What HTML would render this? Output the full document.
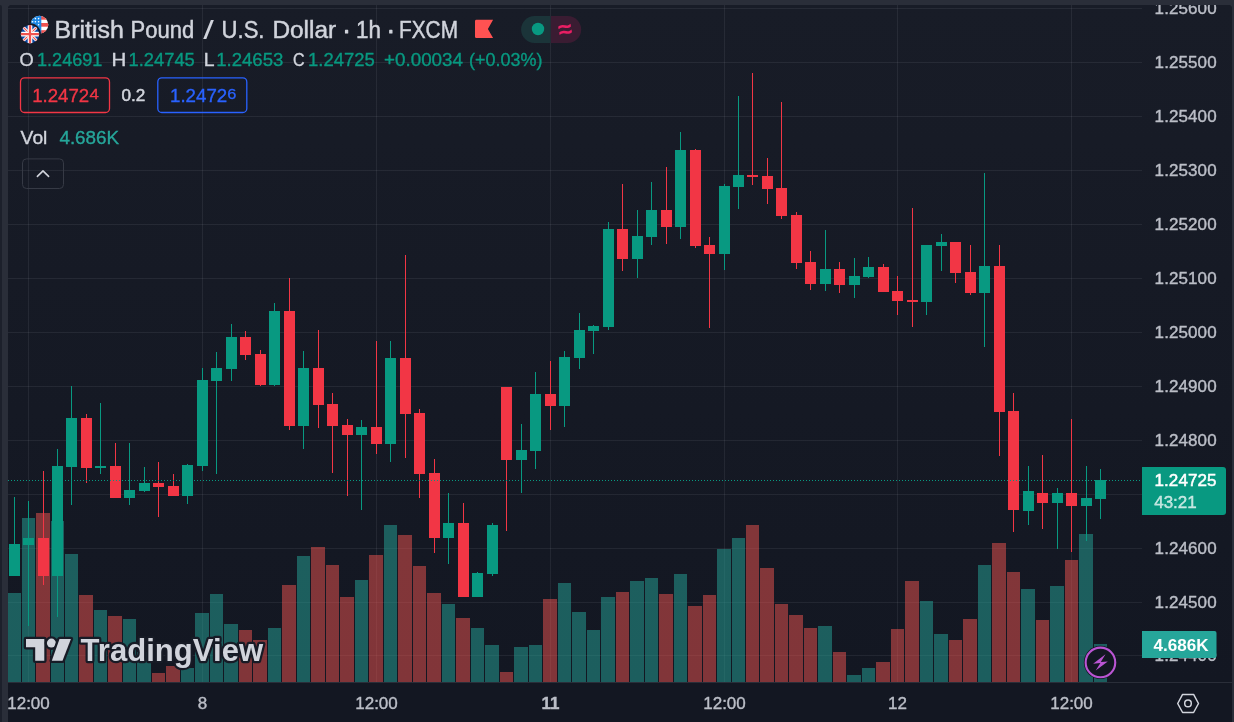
<!DOCTYPE html>
<html lang="en"><head><meta charset="utf-8"><title>GBPUSD chart</title>
<style>
html,body{margin:0;padding:0;background:#2a2e39;}
body{width:1234px;height:722px;position:relative;overflow:hidden;font-family:"Liberation Sans",sans-serif;}
#strip{position:absolute;left:0;top:5px;width:2px;height:717px;background:#1c202b;border-top-right-radius:2px;}
#chart{position:absolute;left:8px;top:5px;width:1224px;height:717px;border-radius:4px 4px 0 0;background:#131722;overflow:hidden;}
#pane{position:absolute;left:0;top:0;width:1224px;height:677px;background:linear-gradient(180deg,#181c27 0%,#131722 100%);}
svg{position:absolute;left:0;top:0;}
text{font-family:"Liberation Sans",sans-serif;}
.ax{font-size:17px;fill:#bbbec7;stroke:#bbbec7;stroke-width:0.4px;}
.lg{font-size:18.2px;stroke-width:0.35px;}
</style></head><body>
<div id="strip"></div>
<div id="chart"><div id="pane"></div></div>
<svg width="1234" height="722" viewBox="0 0 1234 722">
<defs><clipPath id="cp"><rect x="8" y="5" width="1224" height="717" rx="4"/></clipPath></defs>
<g clip-path="url(#cp)">
<g fill="#f0f3fa" fill-opacity="0.07" shape-rendering="crispEdges">
<rect x="8" y="8" width="1134" height="1"/>
<rect x="8" y="62" width="1134" height="1"/>
<rect x="8" y="116" width="1134" height="1"/>
<rect x="8" y="170" width="1134" height="1"/>
<rect x="8" y="224" width="1134" height="1"/>
<rect x="8" y="278" width="1134" height="1"/>
<rect x="8" y="332" width="1134" height="1"/>
<rect x="8" y="386" width="1134" height="1"/>
<rect x="8" y="440" width="1134" height="1"/>
<rect x="8" y="494" width="1134" height="1"/>
<rect x="8" y="548" width="1134" height="1"/>
<rect x="8" y="602" width="1134" height="1"/>
<rect x="8" y="655" width="1134" height="1"/>
<rect x="28" y="5" width="1" height="677"/>
<rect x="202" y="5" width="1" height="677"/>
<rect x="376" y="5" width="1" height="677"/>
<rect x="550" y="5" width="1" height="677"/>
<rect x="724" y="5" width="1" height="677"/>
<rect x="897" y="5" width="1" height="677"/>
<rect x="1071" y="5" width="1" height="677"/>
</g>
<rect x="8" y="682" width="1224" height="1" fill="#2a2e39" shape-rendering="crispEdges"/>
<g shape-rendering="crispEdges">
<rect x="8" y="593" width="13" height="89" fill="rgba(38,166,154,0.5)"/>
<rect x="22" y="518" width="13" height="164" fill="rgba(38,166,154,0.5)"/>
<rect x="36" y="513" width="14" height="169" fill="rgba(239,83,80,0.5)"/>
<rect x="51" y="521" width="13" height="161" fill="rgba(38,166,154,0.5)"/>
<rect x="65" y="554" width="13" height="128" fill="rgba(38,166,154,0.5)"/>
<rect x="79" y="595" width="14" height="87" fill="rgba(239,83,80,0.5)"/>
<rect x="94" y="610" width="13" height="72" fill="rgba(38,166,154,0.5)"/>
<rect x="108" y="616" width="14" height="66" fill="rgba(239,83,80,0.5)"/>
<rect x="123" y="619" width="13" height="63" fill="rgba(38,166,154,0.5)"/>
<rect x="137" y="652" width="14" height="30" fill="rgba(38,166,154,0.5)"/>
<rect x="152" y="673" width="13" height="9" fill="rgba(239,83,80,0.5)"/>
<rect x="166" y="666" width="14" height="16" fill="rgba(239,83,80,0.5)"/>
<rect x="181" y="668" width="13" height="14" fill="rgba(38,166,154,0.5)"/>
<rect x="195" y="613" width="14" height="69" fill="rgba(38,166,154,0.5)"/>
<rect x="210" y="594" width="13" height="88" fill="rgba(38,166,154,0.5)"/>
<rect x="224" y="624" width="14" height="58" fill="rgba(38,166,154,0.5)"/>
<rect x="239" y="630" width="13" height="52" fill="rgba(239,83,80,0.5)"/>
<rect x="253" y="640" width="14" height="42" fill="rgba(239,83,80,0.5)"/>
<rect x="268" y="628" width="13" height="54" fill="rgba(38,166,154,0.5)"/>
<rect x="282" y="585" width="14" height="97" fill="rgba(239,83,80,0.5)"/>
<rect x="297" y="556" width="13" height="126" fill="rgba(38,166,154,0.5)"/>
<rect x="311" y="547" width="14" height="135" fill="rgba(239,83,80,0.5)"/>
<rect x="326" y="565" width="13" height="117" fill="rgba(239,83,80,0.5)"/>
<rect x="340" y="597" width="14" height="85" fill="rgba(239,83,80,0.5)"/>
<rect x="355" y="580" width="13" height="102" fill="rgba(38,166,154,0.5)"/>
<rect x="369" y="555" width="14" height="127" fill="rgba(239,83,80,0.5)"/>
<rect x="384" y="525" width="13" height="157" fill="rgba(38,166,154,0.5)"/>
<rect x="398" y="535" width="14" height="147" fill="rgba(239,83,80,0.5)"/>
<rect x="413" y="566" width="13" height="116" fill="rgba(239,83,80,0.5)"/>
<rect x="427" y="593" width="14" height="89" fill="rgba(239,83,80,0.5)"/>
<rect x="442" y="604" width="13" height="78" fill="rgba(38,166,154,0.5)"/>
<rect x="456" y="618" width="14" height="64" fill="rgba(239,83,80,0.5)"/>
<rect x="471" y="628" width="13" height="54" fill="rgba(38,166,154,0.5)"/>
<rect x="485" y="645" width="14" height="37" fill="rgba(38,166,154,0.5)"/>
<rect x="500" y="672" width="13" height="10" fill="rgba(239,83,80,0.5)"/>
<rect x="514" y="647" width="14" height="35" fill="rgba(38,166,154,0.5)"/>
<rect x="529" y="645" width="13" height="37" fill="rgba(38,166,154,0.5)"/>
<rect x="543" y="599" width="14" height="83" fill="rgba(239,83,80,0.5)"/>
<rect x="558" y="583" width="13" height="99" fill="rgba(38,166,154,0.5)"/>
<rect x="572" y="612" width="14" height="70" fill="rgba(38,166,154,0.5)"/>
<rect x="587" y="630" width="13" height="52" fill="rgba(38,166,154,0.5)"/>
<rect x="601" y="597" width="14" height="85" fill="rgba(38,166,154,0.5)"/>
<rect x="616" y="592" width="13" height="90" fill="rgba(239,83,80,0.5)"/>
<rect x="630" y="581" width="14" height="101" fill="rgba(38,166,154,0.5)"/>
<rect x="645" y="578" width="13" height="104" fill="rgba(38,166,154,0.5)"/>
<rect x="659" y="594" width="14" height="88" fill="rgba(239,83,80,0.5)"/>
<rect x="674" y="574" width="13" height="108" fill="rgba(38,166,154,0.5)"/>
<rect x="688" y="606" width="14" height="76" fill="rgba(239,83,80,0.5)"/>
<rect x="703" y="595" width="13" height="87" fill="rgba(239,83,80,0.5)"/>
<rect x="717" y="549" width="14" height="133" fill="rgba(38,166,154,0.5)"/>
<rect x="732" y="538" width="13" height="144" fill="rgba(38,166,154,0.5)"/>
<rect x="746" y="525" width="13" height="157" fill="rgba(239,83,80,0.5)"/>
<rect x="760" y="568" width="14" height="114" fill="rgba(239,83,80,0.5)"/>
<rect x="775" y="604" width="13" height="78" fill="rgba(239,83,80,0.5)"/>
<rect x="789" y="615" width="14" height="67" fill="rgba(239,83,80,0.5)"/>
<rect x="804" y="628" width="13" height="54" fill="rgba(239,83,80,0.5)"/>
<rect x="818" y="626" width="14" height="56" fill="rgba(38,166,154,0.5)"/>
<rect x="833" y="652" width="13" height="30" fill="rgba(239,83,80,0.5)"/>
<rect x="847" y="675" width="14" height="7" fill="rgba(38,166,154,0.5)"/>
<rect x="862" y="668" width="13" height="14" fill="rgba(38,166,154,0.5)"/>
<rect x="876" y="662" width="14" height="20" fill="rgba(239,83,80,0.5)"/>
<rect x="891" y="629" width="13" height="53" fill="rgba(239,83,80,0.5)"/>
<rect x="905" y="581" width="14" height="101" fill="rgba(239,83,80,0.5)"/>
<rect x="920" y="601" width="13" height="81" fill="rgba(38,166,154,0.5)"/>
<rect x="934" y="634" width="14" height="48" fill="rgba(38,166,154,0.5)"/>
<rect x="949" y="640" width="13" height="42" fill="rgba(239,83,80,0.5)"/>
<rect x="963" y="619" width="14" height="63" fill="rgba(239,83,80,0.5)"/>
<rect x="978" y="565" width="13" height="117" fill="rgba(38,166,154,0.5)"/>
<rect x="992" y="543" width="14" height="139" fill="rgba(239,83,80,0.5)"/>
<rect x="1007" y="572" width="13" height="110" fill="rgba(239,83,80,0.5)"/>
<rect x="1021" y="589" width="14" height="93" fill="rgba(38,166,154,0.5)"/>
<rect x="1036" y="620" width="13" height="62" fill="rgba(239,83,80,0.5)"/>
<rect x="1050" y="586" width="14" height="96" fill="rgba(38,166,154,0.5)"/>
<rect x="1065" y="560" width="13" height="122" fill="rgba(239,83,80,0.5)"/>
<rect x="1079" y="534" width="14" height="148" fill="rgba(38,166,154,0.5)"/>
<rect x="1094" y="644" width="13" height="38" fill="rgba(38,166,154,0.5)"/>
</g>
<g shape-rendering="crispEdges">
<rect x="14" y="497" width="1" height="79" fill="#089981"/><rect x="9" y="544" width="11" height="32" fill="#089981"/>
<rect x="28" y="501" width="1" height="125" fill="#089981"/><rect x="23" y="538" width="11" height="7" fill="#089981"/>
<rect x="43" y="471" width="1" height="114" fill="#f23645"/><rect x="38" y="538" width="11" height="38" fill="#f23645"/>
<rect x="57" y="449" width="1" height="168" fill="#089981"/><rect x="52" y="466" width="11" height="110" fill="#089981"/>
<rect x="71" y="386" width="1" height="119" fill="#089981"/><rect x="66" y="418" width="11" height="49" fill="#089981"/>
<rect x="86" y="414" width="1" height="69" fill="#f23645"/><rect x="81" y="418" width="11" height="50" fill="#f23645"/>
<rect x="100" y="403" width="1" height="71" fill="#089981"/><rect x="95" y="466" width="11" height="2" fill="#089981"/>
<rect x="115" y="443" width="1" height="55" fill="#f23645"/><rect x="110" y="466" width="11" height="32" fill="#f23645"/>
<rect x="129" y="443" width="1" height="62" fill="#089981"/><rect x="124" y="490" width="11" height="8" fill="#089981"/>
<rect x="144" y="467" width="1" height="25" fill="#089981"/><rect x="139" y="483" width="11" height="8" fill="#089981"/>
<rect x="158" y="462" width="1" height="55" fill="#f23645"/><rect x="153" y="483" width="11" height="4" fill="#f23645"/>
<rect x="173" y="474" width="1" height="22" fill="#f23645"/><rect x="168" y="486" width="11" height="10" fill="#f23645"/>
<rect x="187" y="464" width="1" height="40" fill="#089981"/><rect x="182" y="465" width="11" height="31" fill="#089981"/>
<rect x="202" y="368" width="1" height="103" fill="#089981"/><rect x="197" y="380" width="11" height="86" fill="#089981"/>
<rect x="216" y="352" width="1" height="122" fill="#089981"/><rect x="211" y="368" width="11" height="13" fill="#089981"/>
<rect x="231" y="324" width="1" height="57" fill="#089981"/><rect x="226" y="337" width="11" height="32" fill="#089981"/>
<rect x="245" y="331" width="1" height="29" fill="#f23645"/><rect x="240" y="337" width="11" height="18" fill="#f23645"/>
<rect x="260" y="350" width="1" height="36" fill="#f23645"/><rect x="255" y="354" width="11" height="31" fill="#f23645"/>
<rect x="274" y="303" width="1" height="83" fill="#089981"/><rect x="269" y="311" width="11" height="74" fill="#089981"/>
<rect x="289" y="278" width="1" height="152" fill="#f23645"/><rect x="284" y="311" width="11" height="115" fill="#f23645"/>
<rect x="303" y="351" width="1" height="98" fill="#089981"/><rect x="298" y="368" width="11" height="58" fill="#089981"/>
<rect x="318" y="330" width="1" height="98" fill="#f23645"/><rect x="313" y="368" width="11" height="37" fill="#f23645"/>
<rect x="332" y="393" width="1" height="80" fill="#f23645"/><rect x="327" y="404" width="11" height="22" fill="#f23645"/>
<rect x="347" y="419" width="1" height="77" fill="#f23645"/><rect x="342" y="425" width="11" height="10" fill="#f23645"/>
<rect x="361" y="420" width="1" height="90" fill="#089981"/><rect x="356" y="427" width="11" height="8" fill="#089981"/>
<rect x="376" y="341" width="1" height="113" fill="#f23645"/><rect x="371" y="427" width="11" height="17" fill="#f23645"/>
<rect x="390" y="341" width="1" height="121" fill="#089981"/><rect x="385" y="358" width="11" height="86" fill="#089981"/>
<rect x="405" y="255" width="1" height="203" fill="#f23645"/><rect x="400" y="358" width="11" height="56" fill="#f23645"/>
<rect x="419" y="409" width="1" height="89" fill="#f23645"/><rect x="414" y="413" width="11" height="61" fill="#f23645"/>
<rect x="434" y="459" width="1" height="94" fill="#f23645"/><rect x="429" y="473" width="11" height="65" fill="#f23645"/>
<rect x="448" y="493" width="1" height="71" fill="#089981"/><rect x="443" y="523" width="11" height="15" fill="#089981"/>
<rect x="463" y="503" width="1" height="94" fill="#f23645"/><rect x="458" y="523" width="11" height="74" fill="#f23645"/>
<rect x="477" y="572" width="1" height="25" fill="#089981"/><rect x="472" y="573" width="11" height="24" fill="#089981"/>
<rect x="492" y="523" width="1" height="53" fill="#089981"/><rect x="487" y="525" width="11" height="49" fill="#089981"/>
<rect x="506" y="387" width="1" height="144" fill="#f23645"/><rect x="501" y="387" width="11" height="73" fill="#f23645"/>
<rect x="521" y="424" width="1" height="69" fill="#089981"/><rect x="516" y="450" width="11" height="10" fill="#089981"/>
<rect x="535" y="372" width="1" height="97" fill="#089981"/><rect x="530" y="394" width="11" height="57" fill="#089981"/>
<rect x="550" y="361" width="1" height="69" fill="#f23645"/><rect x="545" y="394" width="11" height="12" fill="#f23645"/>
<rect x="564" y="351" width="1" height="76" fill="#089981"/><rect x="559" y="357" width="11" height="49" fill="#089981"/>
<rect x="579" y="313" width="1" height="56" fill="#089981"/><rect x="574" y="330" width="11" height="28" fill="#089981"/>
<rect x="593" y="325" width="1" height="29" fill="#089981"/><rect x="588" y="326" width="11" height="5" fill="#089981"/>
<rect x="608" y="222" width="1" height="108" fill="#089981"/><rect x="603" y="229" width="11" height="98" fill="#089981"/>
<rect x="622" y="184" width="1" height="87" fill="#f23645"/><rect x="617" y="229" width="11" height="30" fill="#f23645"/>
<rect x="637" y="210" width="1" height="68" fill="#089981"/><rect x="632" y="236" width="11" height="23" fill="#089981"/>
<rect x="651" y="182" width="1" height="63" fill="#089981"/><rect x="646" y="210" width="11" height="27" fill="#089981"/>
<rect x="666" y="167" width="1" height="77" fill="#f23645"/><rect x="661" y="210" width="11" height="17" fill="#f23645"/>
<rect x="680" y="132" width="1" height="107" fill="#089981"/><rect x="675" y="150" width="11" height="77" fill="#089981"/>
<rect x="695" y="149" width="1" height="99" fill="#f23645"/><rect x="690" y="150" width="11" height="96" fill="#f23645"/>
<rect x="709" y="237" width="1" height="91" fill="#f23645"/><rect x="704" y="245" width="11" height="9" fill="#f23645"/>
<rect x="724" y="184" width="1" height="86" fill="#089981"/><rect x="719" y="186" width="11" height="68" fill="#089981"/>
<rect x="738" y="96" width="1" height="113" fill="#089981"/><rect x="733" y="175" width="11" height="12" fill="#089981"/>
<rect x="752" y="73" width="1" height="112" fill="#f23645"/><rect x="747" y="175" width="11" height="2" fill="#f23645"/>
<rect x="767" y="158" width="1" height="46" fill="#f23645"/><rect x="762" y="176" width="11" height="13" fill="#f23645"/>
<rect x="781" y="102" width="1" height="117" fill="#f23645"/><rect x="776" y="188" width="11" height="28" fill="#f23645"/>
<rect x="796" y="212" width="1" height="57" fill="#f23645"/><rect x="791" y="215" width="11" height="48" fill="#f23645"/>
<rect x="810" y="251" width="1" height="39" fill="#f23645"/><rect x="805" y="262" width="11" height="22" fill="#f23645"/>
<rect x="825" y="230" width="1" height="61" fill="#089981"/><rect x="820" y="269" width="11" height="15" fill="#089981"/>
<rect x="839" y="262" width="1" height="31" fill="#f23645"/><rect x="834" y="269" width="11" height="16" fill="#f23645"/>
<rect x="854" y="258" width="1" height="40" fill="#089981"/><rect x="849" y="276" width="11" height="9" fill="#089981"/>
<rect x="868" y="257" width="1" height="21" fill="#089981"/><rect x="863" y="267" width="11" height="10" fill="#089981"/>
<rect x="883" y="264" width="1" height="28" fill="#f23645"/><rect x="878" y="267" width="11" height="25" fill="#f23645"/>
<rect x="897" y="276" width="1" height="39" fill="#f23645"/><rect x="892" y="291" width="11" height="10" fill="#f23645"/>
<rect x="912" y="208" width="1" height="119" fill="#f23645"/><rect x="907" y="300" width="11" height="2" fill="#f23645"/>
<rect x="926" y="245" width="1" height="70" fill="#089981"/><rect x="921" y="245" width="11" height="57" fill="#089981"/>
<rect x="941" y="234" width="1" height="37" fill="#089981"/><rect x="936" y="242" width="11" height="4" fill="#089981"/>
<rect x="955" y="242" width="1" height="41" fill="#f23645"/><rect x="950" y="242" width="11" height="31" fill="#f23645"/>
<rect x="970" y="245" width="1" height="50" fill="#f23645"/><rect x="965" y="272" width="11" height="21" fill="#f23645"/>
<rect x="984" y="173" width="1" height="174" fill="#089981"/><rect x="979" y="266" width="11" height="27" fill="#089981"/>
<rect x="999" y="245" width="1" height="211" fill="#f23645"/><rect x="994" y="266" width="11" height="146" fill="#f23645"/>
<rect x="1013" y="393" width="1" height="139" fill="#f23645"/><rect x="1008" y="411" width="11" height="99" fill="#f23645"/>
<rect x="1028" y="466" width="1" height="59" fill="#089981"/><rect x="1023" y="491" width="11" height="20" fill="#089981"/>
<rect x="1042" y="455" width="1" height="74" fill="#f23645"/><rect x="1037" y="493" width="11" height="10" fill="#f23645"/>
<rect x="1057" y="488" width="1" height="61" fill="#089981"/><rect x="1052" y="493" width="11" height="10" fill="#089981"/>
<rect x="1071" y="419" width="1" height="133" fill="#f23645"/><rect x="1066" y="493" width="11" height="13" fill="#f23645"/>
<rect x="1086" y="466" width="1" height="75" fill="#089981"/><rect x="1081" y="498" width="11" height="8" fill="#089981"/>
<rect x="1100" y="469" width="1" height="50" fill="#089981"/><rect x="1095" y="480" width="11" height="19" fill="#089981"/>
</g>
<g fill="#089981" shape-rendering="crispEdges">
<rect x="8" y="480" width="1" height="1"/><rect x="11" y="480" width="1" height="1"/><rect x="14" y="480" width="1" height="1"/><rect x="17" y="480" width="1" height="1"/><rect x="20" y="480" width="1" height="1"/><rect x="23" y="480" width="1" height="1"/><rect x="26" y="480" width="1" height="1"/><rect x="29" y="480" width="1" height="1"/><rect x="32" y="480" width="1" height="1"/><rect x="35" y="480" width="1" height="1"/><rect x="38" y="480" width="1" height="1"/><rect x="41" y="480" width="1" height="1"/><rect x="44" y="480" width="1" height="1"/><rect x="47" y="480" width="1" height="1"/><rect x="50" y="480" width="1" height="1"/><rect x="53" y="480" width="1" height="1"/><rect x="56" y="480" width="1" height="1"/><rect x="59" y="480" width="1" height="1"/><rect x="62" y="480" width="1" height="1"/><rect x="65" y="480" width="1" height="1"/><rect x="68" y="480" width="1" height="1"/><rect x="71" y="480" width="1" height="1"/><rect x="74" y="480" width="1" height="1"/><rect x="77" y="480" width="1" height="1"/><rect x="80" y="480" width="1" height="1"/><rect x="83" y="480" width="1" height="1"/><rect x="86" y="480" width="1" height="1"/><rect x="89" y="480" width="1" height="1"/><rect x="92" y="480" width="1" height="1"/><rect x="95" y="480" width="1" height="1"/><rect x="98" y="480" width="1" height="1"/><rect x="101" y="480" width="1" height="1"/><rect x="104" y="480" width="1" height="1"/><rect x="107" y="480" width="1" height="1"/><rect x="110" y="480" width="1" height="1"/><rect x="113" y="480" width="1" height="1"/><rect x="116" y="480" width="1" height="1"/><rect x="119" y="480" width="1" height="1"/><rect x="122" y="480" width="1" height="1"/><rect x="125" y="480" width="1" height="1"/><rect x="128" y="480" width="1" height="1"/><rect x="131" y="480" width="1" height="1"/><rect x="134" y="480" width="1" height="1"/><rect x="137" y="480" width="1" height="1"/><rect x="140" y="480" width="1" height="1"/><rect x="143" y="480" width="1" height="1"/><rect x="146" y="480" width="1" height="1"/><rect x="149" y="480" width="1" height="1"/><rect x="152" y="480" width="1" height="1"/><rect x="155" y="480" width="1" height="1"/><rect x="158" y="480" width="1" height="1"/><rect x="161" y="480" width="1" height="1"/><rect x="164" y="480" width="1" height="1"/><rect x="167" y="480" width="1" height="1"/><rect x="170" y="480" width="1" height="1"/><rect x="173" y="480" width="1" height="1"/><rect x="176" y="480" width="1" height="1"/><rect x="179" y="480" width="1" height="1"/><rect x="182" y="480" width="1" height="1"/><rect x="185" y="480" width="1" height="1"/><rect x="188" y="480" width="1" height="1"/><rect x="191" y="480" width="1" height="1"/><rect x="194" y="480" width="1" height="1"/><rect x="197" y="480" width="1" height="1"/><rect x="200" y="480" width="1" height="1"/><rect x="203" y="480" width="1" height="1"/><rect x="206" y="480" width="1" height="1"/><rect x="209" y="480" width="1" height="1"/><rect x="212" y="480" width="1" height="1"/><rect x="215" y="480" width="1" height="1"/><rect x="218" y="480" width="1" height="1"/><rect x="221" y="480" width="1" height="1"/><rect x="224" y="480" width="1" height="1"/><rect x="227" y="480" width="1" height="1"/><rect x="230" y="480" width="1" height="1"/><rect x="233" y="480" width="1" height="1"/><rect x="236" y="480" width="1" height="1"/><rect x="239" y="480" width="1" height="1"/><rect x="242" y="480" width="1" height="1"/><rect x="245" y="480" width="1" height="1"/><rect x="248" y="480" width="1" height="1"/><rect x="251" y="480" width="1" height="1"/><rect x="254" y="480" width="1" height="1"/><rect x="257" y="480" width="1" height="1"/><rect x="260" y="480" width="1" height="1"/><rect x="263" y="480" width="1" height="1"/><rect x="266" y="480" width="1" height="1"/><rect x="269" y="480" width="1" height="1"/><rect x="272" y="480" width="1" height="1"/><rect x="275" y="480" width="1" height="1"/><rect x="278" y="480" width="1" height="1"/><rect x="281" y="480" width="1" height="1"/><rect x="284" y="480" width="1" height="1"/><rect x="287" y="480" width="1" height="1"/><rect x="290" y="480" width="1" height="1"/><rect x="293" y="480" width="1" height="1"/><rect x="296" y="480" width="1" height="1"/><rect x="299" y="480" width="1" height="1"/><rect x="302" y="480" width="1" height="1"/><rect x="305" y="480" width="1" height="1"/><rect x="308" y="480" width="1" height="1"/><rect x="311" y="480" width="1" height="1"/><rect x="314" y="480" width="1" height="1"/><rect x="317" y="480" width="1" height="1"/><rect x="320" y="480" width="1" height="1"/><rect x="323" y="480" width="1" height="1"/><rect x="326" y="480" width="1" height="1"/><rect x="329" y="480" width="1" height="1"/><rect x="332" y="480" width="1" height="1"/><rect x="335" y="480" width="1" height="1"/><rect x="338" y="480" width="1" height="1"/><rect x="341" y="480" width="1" height="1"/><rect x="344" y="480" width="1" height="1"/><rect x="347" y="480" width="1" height="1"/><rect x="350" y="480" width="1" height="1"/><rect x="353" y="480" width="1" height="1"/><rect x="356" y="480" width="1" height="1"/><rect x="359" y="480" width="1" height="1"/><rect x="362" y="480" width="1" height="1"/><rect x="365" y="480" width="1" height="1"/><rect x="368" y="480" width="1" height="1"/><rect x="371" y="480" width="1" height="1"/><rect x="374" y="480" width="1" height="1"/><rect x="377" y="480" width="1" height="1"/><rect x="380" y="480" width="1" height="1"/><rect x="383" y="480" width="1" height="1"/><rect x="386" y="480" width="1" height="1"/><rect x="389" y="480" width="1" height="1"/><rect x="392" y="480" width="1" height="1"/><rect x="395" y="480" width="1" height="1"/><rect x="398" y="480" width="1" height="1"/><rect x="401" y="480" width="1" height="1"/><rect x="404" y="480" width="1" height="1"/><rect x="407" y="480" width="1" height="1"/><rect x="410" y="480" width="1" height="1"/><rect x="413" y="480" width="1" height="1"/><rect x="416" y="480" width="1" height="1"/><rect x="419" y="480" width="1" height="1"/><rect x="422" y="480" width="1" height="1"/><rect x="425" y="480" width="1" height="1"/><rect x="428" y="480" width="1" height="1"/><rect x="431" y="480" width="1" height="1"/><rect x="434" y="480" width="1" height="1"/><rect x="437" y="480" width="1" height="1"/><rect x="440" y="480" width="1" height="1"/><rect x="443" y="480" width="1" height="1"/><rect x="446" y="480" width="1" height="1"/><rect x="449" y="480" width="1" height="1"/><rect x="452" y="480" width="1" height="1"/><rect x="455" y="480" width="1" height="1"/><rect x="458" y="480" width="1" height="1"/><rect x="461" y="480" width="1" height="1"/><rect x="464" y="480" width="1" height="1"/><rect x="467" y="480" width="1" height="1"/><rect x="470" y="480" width="1" height="1"/><rect x="473" y="480" width="1" height="1"/><rect x="476" y="480" width="1" height="1"/><rect x="479" y="480" width="1" height="1"/><rect x="482" y="480" width="1" height="1"/><rect x="485" y="480" width="1" height="1"/><rect x="488" y="480" width="1" height="1"/><rect x="491" y="480" width="1" height="1"/><rect x="494" y="480" width="1" height="1"/><rect x="497" y="480" width="1" height="1"/><rect x="500" y="480" width="1" height="1"/><rect x="503" y="480" width="1" height="1"/><rect x="506" y="480" width="1" height="1"/><rect x="509" y="480" width="1" height="1"/><rect x="512" y="480" width="1" height="1"/><rect x="515" y="480" width="1" height="1"/><rect x="518" y="480" width="1" height="1"/><rect x="521" y="480" width="1" height="1"/><rect x="524" y="480" width="1" height="1"/><rect x="527" y="480" width="1" height="1"/><rect x="530" y="480" width="1" height="1"/><rect x="533" y="480" width="1" height="1"/><rect x="536" y="480" width="1" height="1"/><rect x="539" y="480" width="1" height="1"/><rect x="542" y="480" width="1" height="1"/><rect x="545" y="480" width="1" height="1"/><rect x="548" y="480" width="1" height="1"/><rect x="551" y="480" width="1" height="1"/><rect x="554" y="480" width="1" height="1"/><rect x="557" y="480" width="1" height="1"/><rect x="560" y="480" width="1" height="1"/><rect x="563" y="480" width="1" height="1"/><rect x="566" y="480" width="1" height="1"/><rect x="569" y="480" width="1" height="1"/><rect x="572" y="480" width="1" height="1"/><rect x="575" y="480" width="1" height="1"/><rect x="578" y="480" width="1" height="1"/><rect x="581" y="480" width="1" height="1"/><rect x="584" y="480" width="1" height="1"/><rect x="587" y="480" width="1" height="1"/><rect x="590" y="480" width="1" height="1"/><rect x="593" y="480" width="1" height="1"/><rect x="596" y="480" width="1" height="1"/><rect x="599" y="480" width="1" height="1"/><rect x="602" y="480" width="1" height="1"/><rect x="605" y="480" width="1" height="1"/><rect x="608" y="480" width="1" height="1"/><rect x="611" y="480" width="1" height="1"/><rect x="614" y="480" width="1" height="1"/><rect x="617" y="480" width="1" height="1"/><rect x="620" y="480" width="1" height="1"/><rect x="623" y="480" width="1" height="1"/><rect x="626" y="480" width="1" height="1"/><rect x="629" y="480" width="1" height="1"/><rect x="632" y="480" width="1" height="1"/><rect x="635" y="480" width="1" height="1"/><rect x="638" y="480" width="1" height="1"/><rect x="641" y="480" width="1" height="1"/><rect x="644" y="480" width="1" height="1"/><rect x="647" y="480" width="1" height="1"/><rect x="650" y="480" width="1" height="1"/><rect x="653" y="480" width="1" height="1"/><rect x="656" y="480" width="1" height="1"/><rect x="659" y="480" width="1" height="1"/><rect x="662" y="480" width="1" height="1"/><rect x="665" y="480" width="1" height="1"/><rect x="668" y="480" width="1" height="1"/><rect x="671" y="480" width="1" height="1"/><rect x="674" y="480" width="1" height="1"/><rect x="677" y="480" width="1" height="1"/><rect x="680" y="480" width="1" height="1"/><rect x="683" y="480" width="1" height="1"/><rect x="686" y="480" width="1" height="1"/><rect x="689" y="480" width="1" height="1"/><rect x="692" y="480" width="1" height="1"/><rect x="695" y="480" width="1" height="1"/><rect x="698" y="480" width="1" height="1"/><rect x="701" y="480" width="1" height="1"/><rect x="704" y="480" width="1" height="1"/><rect x="707" y="480" width="1" height="1"/><rect x="710" y="480" width="1" height="1"/><rect x="713" y="480" width="1" height="1"/><rect x="716" y="480" width="1" height="1"/><rect x="719" y="480" width="1" height="1"/><rect x="722" y="480" width="1" height="1"/><rect x="725" y="480" width="1" height="1"/><rect x="728" y="480" width="1" height="1"/><rect x="731" y="480" width="1" height="1"/><rect x="734" y="480" width="1" height="1"/><rect x="737" y="480" width="1" height="1"/><rect x="740" y="480" width="1" height="1"/><rect x="743" y="480" width="1" height="1"/><rect x="746" y="480" width="1" height="1"/><rect x="749" y="480" width="1" height="1"/><rect x="752" y="480" width="1" height="1"/><rect x="755" y="480" width="1" height="1"/><rect x="758" y="480" width="1" height="1"/><rect x="761" y="480" width="1" height="1"/><rect x="764" y="480" width="1" height="1"/><rect x="767" y="480" width="1" height="1"/><rect x="770" y="480" width="1" height="1"/><rect x="773" y="480" width="1" height="1"/><rect x="776" y="480" width="1" height="1"/><rect x="779" y="480" width="1" height="1"/><rect x="782" y="480" width="1" height="1"/><rect x="785" y="480" width="1" height="1"/><rect x="788" y="480" width="1" height="1"/><rect x="791" y="480" width="1" height="1"/><rect x="794" y="480" width="1" height="1"/><rect x="797" y="480" width="1" height="1"/><rect x="800" y="480" width="1" height="1"/><rect x="803" y="480" width="1" height="1"/><rect x="806" y="480" width="1" height="1"/><rect x="809" y="480" width="1" height="1"/><rect x="812" y="480" width="1" height="1"/><rect x="815" y="480" width="1" height="1"/><rect x="818" y="480" width="1" height="1"/><rect x="821" y="480" width="1" height="1"/><rect x="824" y="480" width="1" height="1"/><rect x="827" y="480" width="1" height="1"/><rect x="830" y="480" width="1" height="1"/><rect x="833" y="480" width="1" height="1"/><rect x="836" y="480" width="1" height="1"/><rect x="839" y="480" width="1" height="1"/><rect x="842" y="480" width="1" height="1"/><rect x="845" y="480" width="1" height="1"/><rect x="848" y="480" width="1" height="1"/><rect x="851" y="480" width="1" height="1"/><rect x="854" y="480" width="1" height="1"/><rect x="857" y="480" width="1" height="1"/><rect x="860" y="480" width="1" height="1"/><rect x="863" y="480" width="1" height="1"/><rect x="866" y="480" width="1" height="1"/><rect x="869" y="480" width="1" height="1"/><rect x="872" y="480" width="1" height="1"/><rect x="875" y="480" width="1" height="1"/><rect x="878" y="480" width="1" height="1"/><rect x="881" y="480" width="1" height="1"/><rect x="884" y="480" width="1" height="1"/><rect x="887" y="480" width="1" height="1"/><rect x="890" y="480" width="1" height="1"/><rect x="893" y="480" width="1" height="1"/><rect x="896" y="480" width="1" height="1"/><rect x="899" y="480" width="1" height="1"/><rect x="902" y="480" width="1" height="1"/><rect x="905" y="480" width="1" height="1"/><rect x="908" y="480" width="1" height="1"/><rect x="911" y="480" width="1" height="1"/><rect x="914" y="480" width="1" height="1"/><rect x="917" y="480" width="1" height="1"/><rect x="920" y="480" width="1" height="1"/><rect x="923" y="480" width="1" height="1"/><rect x="926" y="480" width="1" height="1"/><rect x="929" y="480" width="1" height="1"/><rect x="932" y="480" width="1" height="1"/><rect x="935" y="480" width="1" height="1"/><rect x="938" y="480" width="1" height="1"/><rect x="941" y="480" width="1" height="1"/><rect x="944" y="480" width="1" height="1"/><rect x="947" y="480" width="1" height="1"/><rect x="950" y="480" width="1" height="1"/><rect x="953" y="480" width="1" height="1"/><rect x="956" y="480" width="1" height="1"/><rect x="959" y="480" width="1" height="1"/><rect x="962" y="480" width="1" height="1"/><rect x="965" y="480" width="1" height="1"/><rect x="968" y="480" width="1" height="1"/><rect x="971" y="480" width="1" height="1"/><rect x="974" y="480" width="1" height="1"/><rect x="977" y="480" width="1" height="1"/><rect x="980" y="480" width="1" height="1"/><rect x="983" y="480" width="1" height="1"/><rect x="986" y="480" width="1" height="1"/><rect x="989" y="480" width="1" height="1"/><rect x="992" y="480" width="1" height="1"/><rect x="995" y="480" width="1" height="1"/><rect x="998" y="480" width="1" height="1"/><rect x="1001" y="480" width="1" height="1"/><rect x="1004" y="480" width="1" height="1"/><rect x="1007" y="480" width="1" height="1"/><rect x="1010" y="480" width="1" height="1"/><rect x="1013" y="480" width="1" height="1"/><rect x="1016" y="480" width="1" height="1"/><rect x="1019" y="480" width="1" height="1"/><rect x="1022" y="480" width="1" height="1"/><rect x="1025" y="480" width="1" height="1"/><rect x="1028" y="480" width="1" height="1"/><rect x="1031" y="480" width="1" height="1"/><rect x="1034" y="480" width="1" height="1"/><rect x="1037" y="480" width="1" height="1"/><rect x="1040" y="480" width="1" height="1"/><rect x="1043" y="480" width="1" height="1"/><rect x="1046" y="480" width="1" height="1"/><rect x="1049" y="480" width="1" height="1"/><rect x="1052" y="480" width="1" height="1"/><rect x="1055" y="480" width="1" height="1"/><rect x="1058" y="480" width="1" height="1"/><rect x="1061" y="480" width="1" height="1"/><rect x="1064" y="480" width="1" height="1"/><rect x="1067" y="480" width="1" height="1"/><rect x="1070" y="480" width="1" height="1"/><rect x="1073" y="480" width="1" height="1"/><rect x="1076" y="480" width="1" height="1"/><rect x="1079" y="480" width="1" height="1"/><rect x="1082" y="480" width="1" height="1"/><rect x="1085" y="480" width="1" height="1"/><rect x="1088" y="480" width="1" height="1"/><rect x="1091" y="480" width="1" height="1"/><rect x="1094" y="480" width="1" height="1"/><rect x="1097" y="480" width="1" height="1"/><rect x="1100" y="480" width="1" height="1"/><rect x="1103" y="480" width="1" height="1"/><rect x="1106" y="480" width="1" height="1"/><rect x="1109" y="480" width="1" height="1"/><rect x="1112" y="480" width="1" height="1"/><rect x="1115" y="480" width="1" height="1"/><rect x="1118" y="480" width="1" height="1"/><rect x="1121" y="480" width="1" height="1"/><rect x="1124" y="480" width="1" height="1"/><rect x="1127" y="480" width="1" height="1"/><rect x="1130" y="480" width="1" height="1"/><rect x="1133" y="480" width="1" height="1"/><rect x="1136" y="480" width="1" height="1"/><rect x="1139" y="480" width="1" height="1"/>
</g>
<text class="ax" x="1154.6" y="14.2" textLength="62" lengthAdjust="spacing">1.25600</text>
<text class="ax" x="1154.6" y="68.2" textLength="62" lengthAdjust="spacing">1.25500</text>
<text class="ax" x="1154.6" y="122.2" textLength="62" lengthAdjust="spacing">1.25400</text>
<text class="ax" x="1154.6" y="176.2" textLength="62" lengthAdjust="spacing">1.25300</text>
<text class="ax" x="1154.6" y="230.2" textLength="62" lengthAdjust="spacing">1.25200</text>
<text class="ax" x="1154.6" y="284.2" textLength="62" lengthAdjust="spacing">1.25100</text>
<text class="ax" x="1154.6" y="338.2" textLength="62" lengthAdjust="spacing">1.25000</text>
<text class="ax" x="1154.6" y="392.2" textLength="62" lengthAdjust="spacing">1.24900</text>
<text class="ax" x="1154.6" y="446.2" textLength="62" lengthAdjust="spacing">1.24800</text>
<text class="ax" x="1154.6" y="500.2" textLength="62" lengthAdjust="spacing">1.24700</text>
<text class="ax" x="1154.6" y="554.2" textLength="62" lengthAdjust="spacing">1.24600</text>
<text class="ax" x="1154.6" y="608.2" textLength="62" lengthAdjust="spacing">1.24500</text>
<text class="ax" x="1154.6" y="661.2" textLength="62" lengthAdjust="spacing">1.24400</text>
<text class="ax" x="28.5" y="709.2" text-anchor="middle">12:00</text>
<text class="ax" x="202.5" y="709.2" text-anchor="middle">8</text>
<text class="ax" x="376.5" y="709.2" text-anchor="middle">12:00</text>
<text class="ax" x="550.5" y="709.2" text-anchor="middle" font-weight="bold" stroke-width="0.1">11</text>
<text class="ax" x="724.5" y="709.2" text-anchor="middle">12:00</text>
<text class="ax" x="897.5" y="709.2" text-anchor="middle">12</text>
<text class="ax" x="1071.5" y="709.2" text-anchor="middle">12:00</text>
<path d="M1142 631H1214.5a2 2 0 0 1 2 2V656a2 2 0 0 1 -2 2H1142Z" fill="#26a69a"/>
<text x="1153.6" y="650.5" font-size="17" font-weight="bold" fill="#ffffff" textLength="55" lengthAdjust="spacingAndGlyphs">4.686K</text>
<path d="M1142 467H1223a3 3 0 0 1 3 3V512a3 3 0 0 1 -3 3H1142Z" fill="#089981"/>
<text x="1154.5" y="486.2" font-size="17" fill="#ffffff" stroke="#ffffff" stroke-width="0.5" textLength="62" lengthAdjust="spacing">1.24725</text>
<text x="1154.2" y="508.1" font-size="17" fill="#ffffff" fill-opacity="0.7" stroke="#ffffff" stroke-opacity="0.7" stroke-width="0.4" textLength="42.5" lengthAdjust="spacing">43:21</text>
<circle cx="1100.45" cy="662.45" r="16.6" fill="#131722"/>
<circle cx="1100.45" cy="662.45" r="14.8" fill="#131722" stroke="#ba55d3" stroke-width="2.1"/>
<path d="M1105.5 654.3L1093.1 663.7L1100.4 663.0L1095.7 670.5L1107.8 661.4L1100.8 661.9Z" fill="#ba55d3"/>
<path d="M1177.7 703.5L1182.6 694.4H1193.6L1198.5 703.5L1193.6 712.5H1182.6Z" fill="none" stroke="#d1d4dc" stroke-width="1.5" stroke-linejoin="round"/>
<circle cx="1188" cy="703.4" r="3.3" fill="none" stroke="#d1d4dc" stroke-width="1.5"/>
<g>
<clipPath id="us"><circle cx="39.4" cy="24.7" r="8.9"/></clipPath>
<g clip-path="url(#us)"><rect x="30" y="15" width="20" height="20" fill="#ffffff"/>
<rect x="41" y="15.8" width="9" height="3.9" fill="#ef5350"/><rect x="41" y="23" width="9" height="3.7" fill="#ef5350"/><rect x="41" y="30.2" width="9" height="3.6" fill="#ef5350"/>
<rect x="30" y="15" width="11.3" height="20" fill="#1e88e5"/>
<g fill="#ffffff"><circle cx="35.4" cy="18.6" r="0.8"/><circle cx="38.6" cy="18.6" r="0.8"/><circle cx="35.4" cy="21.7" r="0.8"/><circle cx="38.6" cy="21.7" r="0.8"/><circle cx="38.6" cy="24.8" r="0.8"/><circle cx="32.6" cy="21.7" r="0.8"/></g></g>
<circle cx="30" cy="34.1" r="10.9" fill="#181c27"/>
<clipPath id="uk"><circle cx="30" cy="34.1" r="9.2"/></clipPath>
<g clip-path="url(#uk)"><rect x="20" y="24" width="20" height="20" fill="#0d47a1"/>
<path d="M20 24L40 44M40 24L20 44" stroke="#ffffff" stroke-width="3.0"/>
<path d="M20 24L40 44M40 24L20 44" stroke="#ef5350" stroke-width="1.1"/>
<path d="M30 24V44M20 34.1H40" stroke="#ffffff" stroke-width="4.6"/>
<path d="M30 24V44M20 34.1H40" stroke="#ef5350" stroke-width="2.3"/></g>
</g>
<text x="54.6" y="37.5" font-size="23" fill="#d1d4dc" stroke="#d1d4dc" stroke-width="0.45" textLength="69.4" lengthAdjust="spacingAndGlyphs">British</text>
<text x="130.6" y="37.5" font-size="23" fill="#d1d4dc" stroke="#d1d4dc" stroke-width="0.45" textLength="63.6" lengthAdjust="spacingAndGlyphs">Pound</text>
<text x="203.2" y="38.6" font-size="26" fill="#d1d4dc" textLength="10.6" lengthAdjust="spacingAndGlyphs">/</text>
<text x="221.6" y="37.5" font-size="23" fill="#d1d4dc" stroke="#d1d4dc" stroke-width="0.45" textLength="42.9" lengthAdjust="spacingAndGlyphs">U.S.</text>
<text x="272.4" y="37.5" font-size="23" fill="#d1d4dc" stroke="#d1d4dc" stroke-width="0.45" textLength="63.8" lengthAdjust="spacingAndGlyphs">Dollar</text>
<text x="346.6" y="37.5" font-size="23" fill="#d1d4dc" stroke="#d1d4dc" stroke-width="1.1" stroke-linejoin="round" text-anchor="middle">·</text>
<text x="356.0" y="37.5" font-size="23" fill="#d1d4dc" stroke="#d1d4dc" stroke-width="0.45" textLength="25.0" lengthAdjust="spacingAndGlyphs">1h</text>
<text x="390.8" y="37.5" font-size="23" fill="#d1d4dc" stroke="#d1d4dc" stroke-width="1.1" stroke-linejoin="round" text-anchor="middle">·</text>
<text x="399.0" y="37.5" font-size="23" fill="#d1d4dc" stroke="#d1d4dc" stroke-width="0.45" textLength="59.0" lengthAdjust="spacingAndGlyphs">FXCM</text>
<path d="M476.4 19.8H493.1L487.9 28.95L493.1 38.1H476.4a1.4 1.4 0 0 1 -1.4 -1.4V21.2a1.4 1.4 0 0 1 1.4 -1.4Z" fill="#ff5252"/>
<path d="M534.6 16H550.8V43H534.6a13.5 13.5 0 0 1 0 -27Z" fill="#1b3439"/>
<path d="M550.8 16H567.7a13.5 13.5 0 0 1 0 27H550.8Z" fill="#3a1c32"/>
<circle cx="538" cy="29" r="6.2" fill="#089981"/>
<text x="565.1" y="37.6" font-size="25" fill="#e91e63" text-anchor="middle" font-weight="bold" transform="rotate(-10 565.1 29.1)">≈</text>
<text x="19.6" y="65.9" class="lg" fill="#d1d4dc" stroke="#d1d4dc" textLength="14.2" lengthAdjust="spacingAndGlyphs">O</text>
<text x="37.0" y="65.9" class="lg" fill="#089981" stroke="#089981" textLength="65.4" lengthAdjust="spacingAndGlyphs">1.24691</text>
<text x="111.4" y="65.9" class="lg" fill="#d1d4dc" stroke="#d1d4dc" textLength="14.8" lengthAdjust="spacingAndGlyphs">H</text>
<text x="128.6" y="65.9" class="lg" fill="#089981" stroke="#089981" textLength="66.2" lengthAdjust="spacingAndGlyphs">1.24745</text>
<text x="203.8" y="65.9" class="lg" fill="#d1d4dc" stroke="#d1d4dc" textLength="10.8" lengthAdjust="spacingAndGlyphs">L</text>
<text x="216.2" y="65.9" class="lg" fill="#089981" stroke="#089981" textLength="67.2" lengthAdjust="spacingAndGlyphs">1.24653</text>
<text x="293.0" y="65.9" class="lg" fill="#d1d4dc" stroke="#d1d4dc" textLength="11.6" lengthAdjust="spacingAndGlyphs">C</text>
<text x="308.0" y="65.9" class="lg" fill="#089981" stroke="#089981" textLength="66.7" lengthAdjust="spacingAndGlyphs">1.24725</text>
<text x="384.0" y="65.9" class="lg" fill="#089981" stroke="#089981" textLength="79.0" lengthAdjust="spacingAndGlyphs">+0.00034</text>
<text x="469.0" y="65.9" class="lg" fill="#089981" stroke="#089981" textLength="73.4" lengthAdjust="spacingAndGlyphs">(+0.03%)</text>
<rect x="20.5" y="77.9" width="89" height="34.6" rx="4" fill="none" stroke="#f23645" stroke-width="1.3"/>
<rect x="157.8" y="77.9" width="89" height="34.6" rx="4" fill="none" stroke="#2962ff" stroke-width="1.3"/>
<text x="32.2" y="101.6" class="lg" fill="#f23645" stroke="#f23645" textLength="57.0" lengthAdjust="spacingAndGlyphs">1.2472</text>
<text x="89.5" y="99.2" font-size="15" fill="#f23645" stroke="#f23645" stroke-width="0.3" textLength="9.4" lengthAdjust="spacingAndGlyphs">4</text>
<text x="170.0" y="101.6" class="lg" fill="#2962ff" stroke="#2962ff" textLength="57.2" lengthAdjust="spacingAndGlyphs">1.2472</text>
<text x="227.3" y="99.2" font-size="15" fill="#2962ff" stroke="#2962ff" stroke-width="0.3" textLength="9.1" lengthAdjust="spacingAndGlyphs">6</text>
<text x="121.6" y="100.9" font-size="16" fill="#d1d4dc" stroke="#d1d4dc" stroke-width="0.5" textLength="23.8" lengthAdjust="spacingAndGlyphs">0.2</text>
<text x="20.6" y="143.9" class="lg" fill="#d1d4dc" stroke="#d1d4dc" textLength="26.8" lengthAdjust="spacingAndGlyphs">Vol</text>
<text x="59.4" y="143.9" class="lg" fill="#26a69a" stroke="#26a69a" textLength="59.8" lengthAdjust="spacingAndGlyphs">4.686K</text>
<rect x="22.5" y="158.9" width="41" height="29.6" rx="4" fill="none" stroke="#363a45" stroke-width="1"/>
<path d="M37.4 176.4L43 170.9L48.6 176.4" fill="none" stroke="#d1d4dc" stroke-width="1.6" stroke-linecap="round" stroke-linejoin="round"/>
<g stroke="#171b26" stroke-width="4.6" stroke-linejoin="round" paint-order="stroke" fill="#d1d4dc">
<path d="M26 639H44.3V660.8H35.2V647.2H26Z"/><circle cx="51.4" cy="643.1" r="4.5"/><path d="M59.5 639H70.9L62.5 660.8H51.8Z"/>
<text x="80.6" y="660.8" font-size="31.6" font-weight="bold" textLength="182.5" lengthAdjust="spacingAndGlyphs">TradingView</text>
</g>
</g></svg>
</body></html>
